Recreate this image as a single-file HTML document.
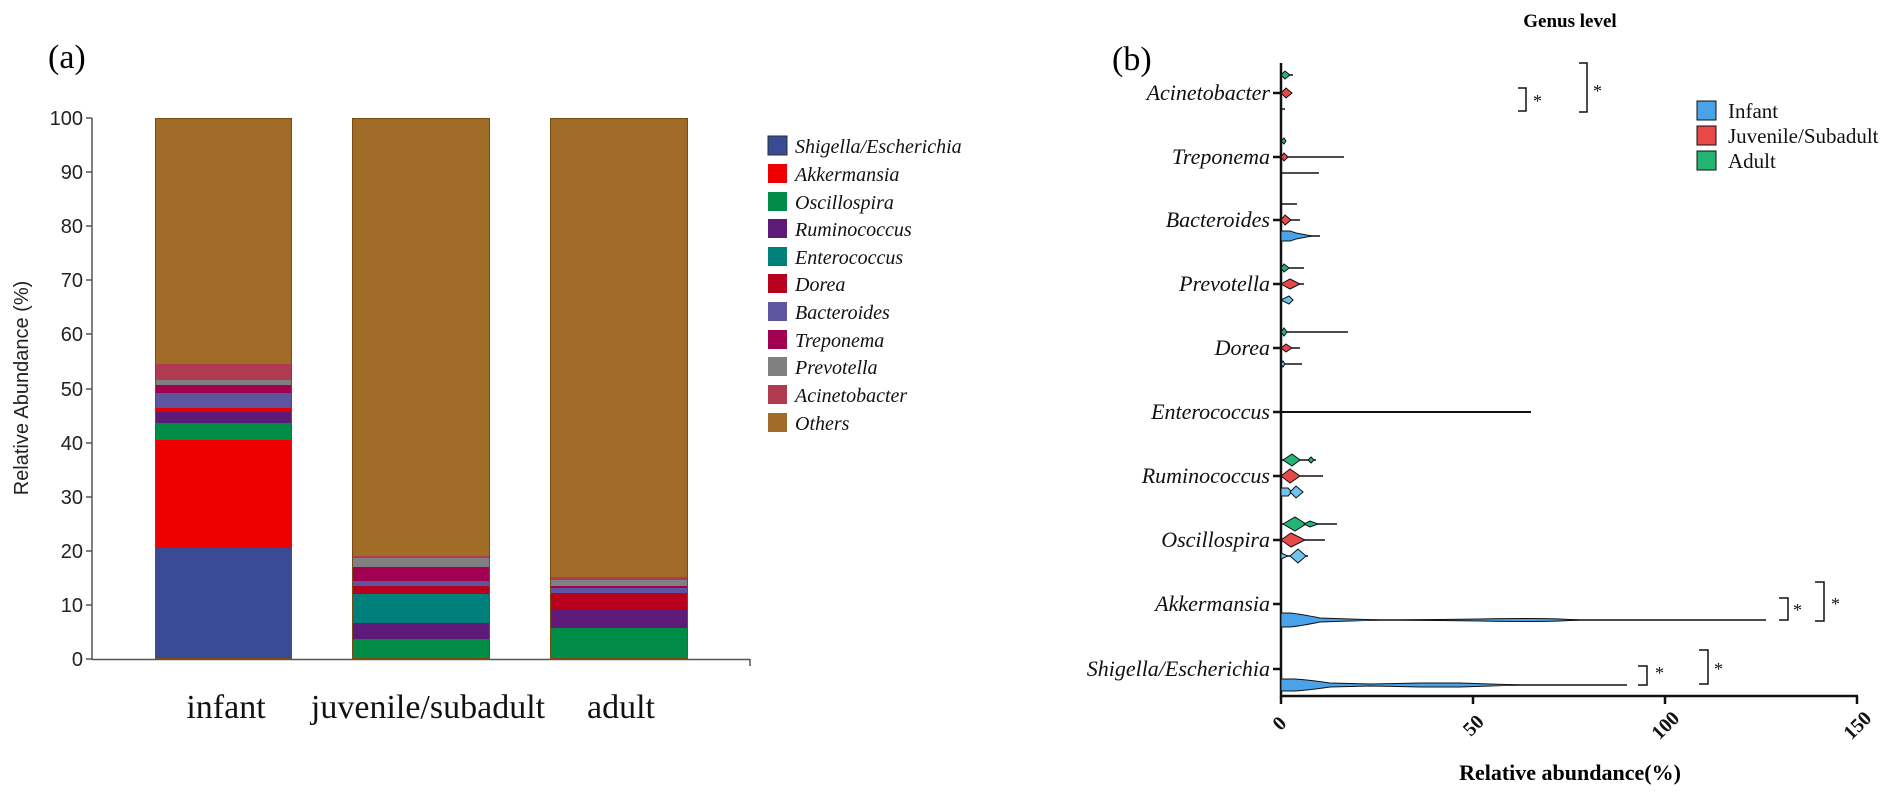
<!DOCTYPE html>
<html><head><meta charset="utf-8"><style>
body{margin:0;background:#fff}
svg{display:block}
</style></head><body>
<svg width="1902" height="796" viewBox="0 0 1902 796" xmlns="http://www.w3.org/2000/svg">
<g font-family="Liberation Serif, serif">
<!-- (a) -->
<text x="48" y="68" font-size="34">(a)</text>
<line x1="92" y1="118" x2="92" y2="660" stroke="#555" stroke-width="1.5"/>
<line x1="92" y1="659.5" x2="750" y2="659.5" stroke="#555" stroke-width="1.5"/>
<line x1="750" y1="659" x2="750" y2="666" stroke="#555" stroke-width="1.5"/>
<g font-family="Liberation Sans, sans-serif" font-size="20" text-anchor="end" fill="#222">
<g stroke="#555" stroke-width="1.5">
<line x1="86" y1="118" x2="92" y2="118"/><line x1="86" y1="172" x2="92" y2="172"/><line x1="86" y1="226" x2="92" y2="226"/><line x1="86" y1="280" x2="92" y2="280"/><line x1="86" y1="334" x2="92" y2="334"/><line x1="86" y1="389" x2="92" y2="389"/><line x1="86" y1="443" x2="92" y2="443"/><line x1="86" y1="497" x2="92" y2="497"/><line x1="86" y1="551" x2="92" y2="551"/><line x1="86" y1="605" x2="92" y2="605"/><line x1="86" y1="659" x2="92" y2="659"/>
</g>
<text x="83" y="125">100</text><text x="83" y="179">90</text><text x="83" y="233">80</text><text x="83" y="287">70</text><text x="83" y="341">60</text><text x="83" y="396">50</text><text x="83" y="450">40</text><text x="83" y="504">30</text><text x="83" y="558">20</text><text x="83" y="612">10</text><text x="83" y="666">0</text>
</g>
<text transform="translate(28,388) rotate(-90)" text-anchor="middle" font-family="Liberation Sans, sans-serif" font-size="20" fill="#222">Relative Abundance (%)</text>
<g stroke="none">
<rect x="155" y="118" width="137" height="246" fill="#a06c27"/>
<rect x="155" y="364" width="137" height="16" fill="#b03a50"/>
<rect x="155" y="380" width="137" height="5" fill="#808080"/>
<rect x="155" y="385" width="137" height="8" fill="#a0004f"/>
<rect x="155" y="393" width="137" height="15" fill="#5e55a0"/>
<rect x="155" y="408" width="137" height="4" fill="#e00000"/>
<rect x="155" y="412" width="137" height="11" fill="#5e1a78"/>
<rect x="155" y="423" width="137" height="17" fill="#008c45"/>
<rect x="155" y="440" width="137" height="108" fill="#ee0000"/>
<rect x="155" y="548" width="137" height="111" fill="#3b4a94"/>
<rect x="352" y="118" width="138" height="438" fill="#a06c27"/>
<rect x="352" y="556" width="138" height="2" fill="#b03a50"/>
<rect x="352" y="558" width="138" height="9" fill="#808080"/>
<rect x="352" y="567" width="138" height="14" fill="#a0004f"/>
<rect x="352" y="581" width="138" height="5" fill="#5e55a0"/>
<rect x="352" y="586" width="138" height="8" fill="#b8001f"/>
<rect x="352" y="594" width="138" height="29" fill="#00807a"/>
<rect x="352" y="623" width="138" height="16" fill="#5e1a78"/>
<rect x="352" y="639" width="138" height="20" fill="#008c45"/>
<rect x="550" y="118" width="138" height="459" fill="#a06c27"/>
<rect x="550" y="577" width="138" height="3" fill="#b03a50"/>
<rect x="550" y="580" width="138" height="6" fill="#808080"/>
<rect x="550" y="586" width="138" height="2" fill="#a0004f"/>
<rect x="550" y="588" width="138" height="5" fill="#5e55a0"/>
<rect x="550" y="593" width="138" height="16" fill="#b8001f"/>
<rect x="550" y="609" width="138" height="19" fill="#5e1a78"/>
<rect x="550" y="628" width="138" height="31" fill="#008c45"/>
</g>
<g fill="none" stroke="#7a4a14" stroke-width="1">
<rect x="155.5" y="118.5" width="136" height="540"/>
<rect x="352.5" y="118.5" width="137" height="540"/>
<rect x="550.5" y="118.5" width="137" height="540"/>
</g>
<g font-size="34" text-anchor="middle" fill="#111">
<text x="226" y="718">infant</text><text x="428" y="718">juvenile/subadult</text><text x="621" y="718">adult</text>
</g>
<g font-size="20" font-style="italic" fill="#111">
<rect x="768" y="136" width="19" height="19" fill="#3b4a94" stroke="#233"/><text x="795" y="153">Shigella/Escherichia</text>
<rect x="768" y="164" width="19" height="19" fill="#ee0000"/><text x="795" y="181">Akkermansia</text>
<rect x="768" y="192" width="19" height="19" fill="#008c45"/><text x="795" y="209">Oscillospira</text>
<rect x="768" y="219" width="19" height="19" fill="#5e1a78"/><text x="795" y="236">Ruminococcus</text>
<rect x="768" y="247" width="19" height="19" fill="#00807a"/><text x="795" y="264">Enterococcus</text>
<rect x="768" y="274" width="19" height="19" fill="#b8001f"/><text x="795" y="291">Dorea</text>
<rect x="768" y="302" width="19" height="19" fill="#5e55a0"/><text x="795" y="319">Bacteroides</text>
<rect x="768" y="330" width="19" height="19" fill="#a0004f"/><text x="795" y="347">Treponema</text>
<rect x="768" y="357" width="19" height="19" fill="#808080"/><text x="795" y="374">Prevotella</text>
<rect x="768" y="385" width="19" height="19" fill="#b03a50"/><text x="795" y="402">Acinetobacter</text>
<rect x="768" y="413" width="19" height="19" fill="#a06c27"/><text x="795" y="430">Others</text>
</g>

<!-- (b) -->
<text x="1570" y="27" font-size="19" font-weight="bold" text-anchor="middle">Genus level</text>
<text x="1112" y="70" font-size="34">(b)</text>
<line x1="1281" y1="63" x2="1281" y2="697" stroke="#111" stroke-width="2.5"/>
<line x1="1280" y1="696" x2="1858" y2="696" stroke="#111" stroke-width="2.5"/>
<g stroke="#111" stroke-width="2.5">
<line x1="1281" y1="696" x2="1281" y2="704"/><line x1="1473" y1="696" x2="1473" y2="704"/><line x1="1665" y1="696" x2="1665" y2="704"/><line x1="1857" y1="696" x2="1857" y2="704"/>
<line x1="1273" y1="93" x2="1281" y2="93"/><line x1="1273" y1="157" x2="1281" y2="157"/><line x1="1273" y1="220" x2="1281" y2="220"/><line x1="1273" y1="284" x2="1281" y2="284"/><line x1="1273" y1="348" x2="1281" y2="348"/><line x1="1273" y1="412" x2="1281" y2="412"/><line x1="1273" y1="476" x2="1281" y2="476"/><line x1="1273" y1="540" x2="1281" y2="540"/><line x1="1273" y1="604" x2="1281" y2="604"/><line x1="1273" y1="669" x2="1281" y2="669"/>
</g>
<g font-size="22" font-style="italic" text-anchor="end" fill="#111">
<text x="1270" y="100">Acinetobacter</text><text x="1270" y="164">Treponema</text><text x="1270" y="227">Bacteroides</text><text x="1270" y="291">Prevotella</text><text x="1270" y="355">Dorea</text><text x="1270" y="419">Enterococcus</text><text x="1270" y="483">Ruminococcus</text><text x="1270" y="547">Oscillospira</text><text x="1270" y="611">Akkermansia</text><text x="1270" y="676">Shigella/Escherichia</text>
</g>
<g font-size="20" font-weight="bold" fill="#111" text-anchor="middle">
<text transform="translate(1284,728) rotate(-45)">0</text>
<text transform="translate(1478,730) rotate(-45)">50</text>
<text transform="translate(1670,730) rotate(-45)">100</text>
<text transform="translate(1862,730) rotate(-45)">150</text>
</g>
<text x="1570" y="780" font-size="22" font-weight="bold" text-anchor="middle">Relative abundance(%)</text>

<g stroke="#111" stroke-width="1.5">
<line x1="1281" y1="75" x2="1293" y2="75"/><line x1="1281" y1="109" x2="1285" y2="109"/>
<line x1="1281" y1="157" x2="1344" y2="157"/><line x1="1281" y1="173" x2="1319" y2="173"/>
<line x1="1281" y1="204" x2="1297" y2="204"/><line x1="1281" y1="220" x2="1300" y2="220"/><line x1="1281" y1="236" x2="1320" y2="236"/>
<line x1="1281" y1="268" x2="1304" y2="268"/><line x1="1281" y1="284" x2="1304" y2="284"/>
<line x1="1281" y1="332" x2="1348" y2="332"/><line x1="1281" y1="348" x2="1300" y2="348"/><line x1="1281" y1="364" x2="1302" y2="364"/>
<line x1="1281" y1="412" x2="1531" y2="412" stroke-width="2"/>
<line x1="1281" y1="460" x2="1316" y2="460"/><line x1="1281" y1="476" x2="1323" y2="476"/><line x1="1281" y1="492" x2="1302" y2="492"/>
<line x1="1281" y1="524" x2="1337" y2="524"/><line x1="1281" y1="540" x2="1325" y2="540"/><line x1="1281" y1="556" x2="1308" y2="556"/>
<line x1="1281" y1="620" x2="1766" y2="620"/><line x1="1281" y1="685" x2="1627" y2="685"/>
</g>
<g stroke="#111" stroke-width="1">
<polygon points="1281,75 1285,71 1290,75 1285,79" fill="#22b573"/>
<polygon points="1281,93 1286,88 1292,93 1286,98" fill="#e84848"/>
<polygon points="1281,141 1284,138 1286,141 1284,144" fill="#22b573"/>
<polygon points="1281,157 1284,153 1288,157 1284,161" fill="#e84848"/>
<polygon points="1281,220 1285,215 1291,220 1285,225" fill="#e84848"/>
<polygon points="1281,231 1290,231 1296,233 1312,236 1296,239 1290,241 1281,241" fill="#4aa3e8"/>
<polygon points="1281,268 1284,264 1289,268 1284,272" fill="#22b573"/>
<polygon points="1281,284 1290,279 1300,284 1290,289" fill="#e84848"/>
<polygon points="1281,300 1289,296 1293,300 1289,304" fill="#6ec4ee"/>
<polygon points="1281,332 1284,328 1287,332 1284,336" fill="#22b573"/>
<polygon points="1281,348 1286,344 1292,348 1286,352" fill="#e84848"/>
<polygon points="1281,364 1283,361 1285,364 1283,367" fill="#6ec4ee"/>
<polygon points="1283,460 1292,454 1300,460 1292,466" fill="#22b573"/>
<polygon points="1308,460 1311,457 1314,460 1311,463" fill="#22b573"/>
<polygon points="1281,476 1290,469 1300,476 1290,483" fill="#e84848"/>
<polygon points="1281,488 1288,488 1292,492 1288,496 1281,496" fill="#6ec4ee"/>
<polygon points="1290,492 1296,486 1303,492 1296,498" fill="#6ec4ee"/>
<polygon points="1283,524 1295,517 1306,524 1295,531" fill="#22b573"/>
<polygon points="1304,524 1310,521 1318,524 1310,527" fill="#22b573"/>
<polygon points="1281,540 1291,533 1305,540 1291,547" fill="#e84848"/>
<polygon points="1281,553 1288,556 1281,559" fill="#6ec4ee"/>
<polygon points="1290,556 1298,549 1306,556 1298,563" fill="#6ec4ee"/>
<path d="M1281,613 L1290,613 Q1300,614 1320,618 L1380,620 L1400,620 L1480,619 Q1530,618 1560,619 L1580,620 L1560,621 Q1530,622 1480,621 L1400,620 L1380,620 L1320,622 Q1300,626 1290,627 L1281,627 Z" fill="#4aa3e8"/>
<path d="M1281,679 L1295,679 Q1310,680 1330,683 L1370,684 L1420,683 L1460,683 L1490,684 L1520,685 L1490,686 L1460,687 L1420,687 L1370,686 L1330,687 Q1310,690 1295,691 L1281,691 Z" fill="#4aa3e8"/>
</g>
<g stroke="#111" stroke-width="1.5" fill="none">
<polyline points="1518,88 1526,88 1526,111 1518,111"/>
<polyline points="1579,63 1587,63 1587,112 1579,112"/>
<polyline points="1779,598 1788,598 1788,620 1779,620"/>
<polyline points="1815,582 1824,582 1824,621 1815,621"/>
<polyline points="1638,666 1647,666 1647,685 1638,685"/>
<polyline points="1699,650 1708,650 1708,684 1699,684"/>
</g>
<g font-size="18" fill="#111">
<text x="1533" y="107">*</text><text x="1593" y="97">*</text>
<text x="1793" y="616">*</text><text x="1831" y="610">*</text>
<text x="1655" y="679">*</text><text x="1714" y="675">*</text>
</g>
<g font-size="21" fill="#111">
<rect x="1697" y="101" width="19" height="19" fill="#4aa3e8" stroke="#111"/><text x="1728" y="118">Infant</text>
<rect x="1697" y="126" width="19" height="19" fill="#e84848" stroke="#111"/><text x="1728" y="143">Juvenile/Subadult</text>
<rect x="1697" y="151" width="19" height="19" fill="#22b573" stroke="#111"/><text x="1728" y="168">Adult</text>
</g>
</g>
</svg>
</body></html>
